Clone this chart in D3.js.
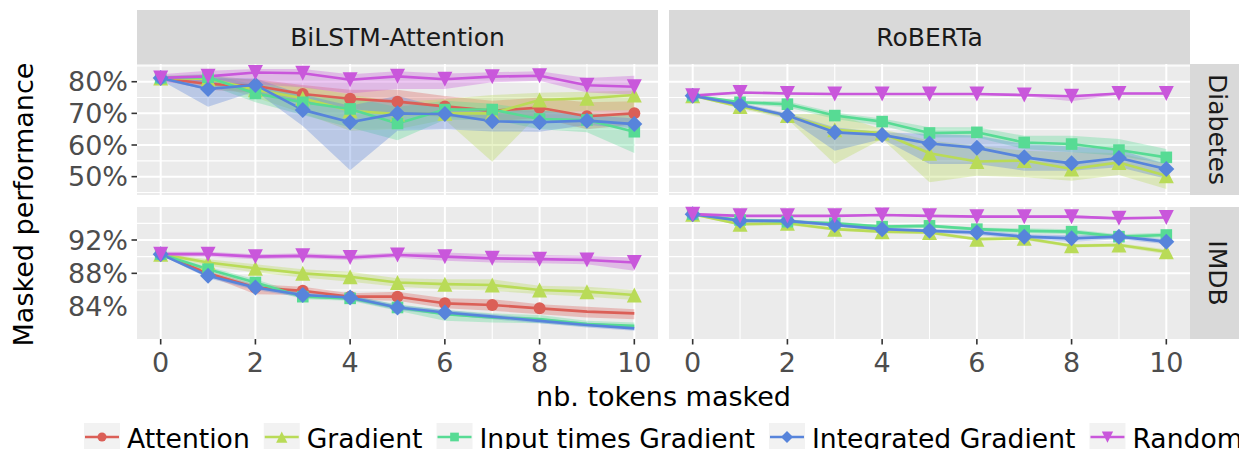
<!DOCTYPE html>
<html><head><meta charset="utf-8">
<script src="https://cdn.jsdelivr.net/npm/d3@7"></script>
<style>
body{margin:0;background:#fff}
svg{display:block}
text{font-family:"DejaVu Sans",sans-serif}
</style>
</head><body>
<svg id="chart" width="1239" height="449"></svg>
<script>
// ---------------- data ----------------
const steps = [0,1,2,3,4,5,6,7,8,9,10];
const models = ["BiLSTM-Attention", "RoBERTa"];
const datasets = ["Diabetes", "IMDB"];
const methods = ["Attention", "Gradient", "Input times Gradient", "Integrated Gradient", "Random"];
const xTicks = [0,2,4,6,8,10];
const xMinor = [1,3,5,7,9];
const diabetesTicks = [50,60,70,80];
const diabetesMinor = [45,55,65,75,85];
const imdbTicks = [84,88,92];
const imdbGridTicks = [88,92];
const imdbMinor = [86,90,94];

// BiLSTM-Attention / Diabetes
const bilstmDiabetesMean = {
  "Attention":            [81.2,79.3,78.7,76.1,74.6,73.7,72.2,70.8,71.8,69.1,70.0],
  "Gradient":             [81.2,80.9,77.5,74.8,70.8,69.8,70.0,70.0,74.2,74.8,75.8],
  "Input times Gradient": [81.2,81.4,76.3,73.5,71.4,66.8,71.2,71.2,68.2,67.9,64.2],
  "Integrated Gradient":  [81.2,77.7,79.0,71.1,67.2,70.0,69.8,67.5,67.2,67.7,66.6],
  "Random":               [81.2,81.7,82.9,82.7,80.6,81.7,80.8,81.6,81.9,78.9,78.4]
};
const bilstmDiabetesLo = {
  "Attention":            [80.5,77.5,76.5,73.0,71.5,69.5,69.0,67.5,68.5,65.0,66.5],
  "Gradient":             [80.5,79.5,75.0,70.0,64.5,65.0,68.0,54.7,70.0,70.8,71.0],
  "Input times Gradient": [80.5,79.0,73.5,69.5,65.5,61.5,68.0,68.0,65.0,64.0,57.5],
  "Integrated Gradient":  [80.5,72.1,77.0,66.0,52.0,64.5,65.0,64.3,64.2,66.3,65.3],
  "Random":               [79.8,79.3,79.3,78.2,76.3,77.7,77.7,79.8,80.3,76.6,75.9]
};
const bilstmDiabetesHi = {
  "Attention":            [81.8,81.0,80.8,79.0,77.5,77.5,75.5,74.0,75.0,73.5,73.8],
  "Gradient":             [81.8,82.2,80.5,78.5,76.0,73.5,74.5,75.8,76.5,76.8,77.2],
  "Input times Gradient": [81.8,82.5,79.0,76.0,75.0,72.0,74.0,73.0,71.0,70.0,69.5],
  "Integrated Gradient":  [81.8,81.4,81.0,76.0,72.4,75.6,71.5,71.0,71.0,69.5,68.4],
  "Random":               [82.4,83.5,84.0,84.0,82.4,83.3,82.6,83.0,83.3,81.2,81.9]
};

// RoBERTa / Diabetes
const robertaDiabetesMean = {
  "Gradient":             [75.6,72.2,69.3,64.8,63.8,57.4,54.8,55.1,52.4,54.5,50.3],
  "Input times Gradient": [75.6,73.5,72.9,69.3,67.4,63.8,64.0,60.8,60.3,58.4,56.1],
  "Integrated Gradient":  [75.6,72.7,69.3,64.0,63.2,60.5,59.1,56.1,54.2,55.9,52.4],
  "Random":               [75.6,76.6,76.3,76.1,76.1,76.1,76.1,75.8,75.4,76.3,76.3]
};
const robertaDiabetesLo = {
  "Gradient":             [75.3,71.5,68.2,54.0,61.9,48.2,50.3,49.8,48.7,50.5,46.1],
  "Input times Gradient": [75.3,73.0,71.9,68.2,66.1,62.4,62.4,58.7,57.7,56.6,54.0],
  "Integrated Gradient":  [75.3,72.0,68.5,58.2,61.9,54.0,54.0,51.9,51.9,53.0,49.3],
  "Random":               [75.3,76.3,76.0,75.8,75.8,75.8,75.8,75.4,73.8,76.0,76.0]
};
const robertaDiabetesHi = {
  "Gradient":             [75.9,72.9,69.8,69.8,65.0,61.4,59.8,58.2,57.7,57.5,54.0],
  "Input times Gradient": [75.9,74.0,73.8,70.3,68.4,65.6,65.6,62.9,62.9,61.9,58.7],
  "Integrated Gradient":  [75.9,73.4,70.0,65.6,64.0,63.5,63.0,60.3,59.5,58.5,54.0],
  "Random":               [75.9,76.9,76.6,76.4,76.4,76.4,76.4,76.1,75.7,76.6,76.6]
};

// BiLSTM-Attention / IMDB
const bilstmImdbMean = {
  "Attention":            [90.3,88.0,86.3,85.9,85.2,85.2,84.4,84.2,83.8,83.4,83.2],
  "Gradient":             [90.3,89.3,88.6,88.0,87.6,86.9,86.7,86.6,86.0,85.8,85.4],
  "Input times Gradient": [90.3,88.5,86.9,85.2,85.0,83.9,83.1,82.7,82.5,81.9,81.7],
  "Integrated Gradient":  [90.3,87.7,86.3,85.4,85.1,83.9,83.3,82.8,82.3,81.8,81.4],
  "Random":               [90.3,90.3,90.0,90.1,89.9,90.2,90.0,89.8,89.7,89.6,89.3]
};
const bilstmImdbLo = {
  "Attention":            [90.2,87.7,85.5,85.4,84.8,84.7,83.8,83.5,83.1,82.7,82.5],
  "Gradient":             [90.2,88.9,88.1,87.5,87.0,86.4,86.1,85.9,85.5,85.2,84.8],
  "Input times Gradient": [90.2,88.2,86.5,84.9,84.7,83.5,82.3,82.1,82.0,81.6,81.4],
  "Integrated Gradient":  [90.2,87.4,86.0,85.1,84.8,83.6,83.0,82.5,82.0,81.5,81.1],
  "Random":               [90.0,90.0,89.7,89.8,89.6,89.9,89.5,89.3,89.2,89.1,88.3]
};
const bilstmImdbHi = {
  "Attention":            [90.4,88.3,86.7,86.4,85.6,85.8,85.0,84.9,84.3,84.0,83.7],
  "Gradient":             [90.4,89.7,89.1,88.5,88.2,87.4,87.3,87.3,86.5,86.4,86.0],
  "Input times Gradient": [90.4,88.8,87.3,85.5,85.3,84.3,83.6,83.2,83.0,82.3,82.1],
  "Integrated Gradient":  [90.4,88.0,86.6,85.7,85.4,84.2,83.6,83.1,82.6,82.1,81.7],
  "Random":               [90.6,90.6,90.3,90.4,90.2,90.5,90.5,90.3,90.2,90.1,89.9]
};
// last step that carries a marker (others: all steps)
const bilstmImdbLastMarked = {"Attention": 8, "Input times Gradient": 5, "Integrated Gradient": 6};

// RoBERTa / IMDB
const robertaImdbMean = {
  "Gradient":             [95.1,93.9,94.0,93.3,93.0,92.9,92.1,92.2,91.3,91.4,90.6],
  "Input times Gradient": [95.1,94.4,94.2,94.0,93.6,93.7,93.3,93.1,93.0,92.4,92.6],
  "Integrated Gradient":  [95.1,94.3,94.3,93.8,93.3,93.1,92.9,92.4,92.2,92.4,91.8],
  "Random":               [95.1,94.9,94.9,94.9,95.0,94.9,94.8,94.8,94.8,94.6,94.7]
};
const robertaImdbLo = {
  "Gradient":             [95.0,93.7,93.8,93.1,92.8,92.7,91.9,92.0,91.1,91.2,90.3],
  "Input times Gradient": [95.0,94.2,94.0,93.8,93.4,93.5,93.1,92.8,92.7,92.1,92.3],
  "Integrated Gradient":  [95.0,94.1,94.1,93.6,93.1,92.9,92.6,92.1,91.8,92.1,91.5],
  "Random":               [95.0,94.8,94.8,94.8,94.9,94.8,94.7,94.7,94.6,94.5,94.6]
};
const robertaImdbHi = {
  "Gradient":             [95.2,94.1,94.2,93.5,93.2,93.1,92.3,92.4,91.5,91.6,90.9],
  "Input times Gradient": [95.2,94.6,94.4,94.2,93.8,93.9,93.5,93.4,93.3,92.7,92.9],
  "Integrated Gradient":  [95.2,94.5,94.5,94.0,93.5,93.3,93.2,92.7,92.6,92.7,92.1],
  "Random":               [95.2,95.0,95.0,95.0,95.1,95.0,94.9,94.9,95.0,94.7,94.8]
};

// ---------------- styles ----------------
const palette = ["#DB5F57", "#B9DB57", "#57DB94", "#5784DB", "#C957DB"];
const shapes = ["circle", "triangleUp", "square", "diamond", "triangleDown"];

const colX = [[137, 658], [669, 1190]];
const rowY = [[64, 195], [207, 339]];
const stripTop = 10;
const stripRightW = 56;

const rowDomains = [[44.2, 85.6], [80.12, 95.96]];
const rowTicks = [diabetesTicks, imdbTicks];
const rowGridTicks = [diabetesTicks, imdbGridTicks];
const rowMinor = [diabetesMinor, imdbMinor];

const panels = [
  {row:0, col:0, mean: bilstmDiabetesMean, lo: bilstmDiabetesLo, hi: bilstmDiabetesHi, last: {}},
  {row:0, col:1, mean: robertaDiabetesMean, lo: robertaDiabetesLo, hi: robertaDiabetesHi, last: {}},
  {row:1, col:0, mean: bilstmImdbMean, lo: bilstmImdbLo, hi: bilstmImdbHi, last: bilstmImdbLastMarked},
  {row:1, col:1, mean: robertaImdbMean, lo: robertaImdbLo, hi: robertaImdbHi, last: {}}
];

function symbolPath(shape) {
  switch (shape) {
    case "circle": { const r = 6; return `M${r},0A${r},${r} 0 1,1 ${-r},0A${r},${r} 0 1,1 ${r},0Z`; }
    case "square": { const s = 5.8; return `M${-s},${-s}H${s}V${s}H${-s}Z`; }
    case "diamond": { const d = 8; return `M0,${-d}L${d},0L0,${d}L${-d},0Z`; }
    case "triangleUp": { const t = 7.5; return `M0,${-t}L${t},${t}L${-t},${t}Z`; }
    case "triangleDown": { const t = 7.5; return `M0,${t}L${t},${-t}L${-t},${-t}Z`; }
  }
}

const svg = d3.select("#chart");
const tickColor = "#4D4D4D";

const xScales = colX.map(r => d3.scaleLinear().domain([-0.5, 10.5]).range(r));
const yScales = rowY.map((r, i) => d3.scaleLinear().domain(rowDomains[i]).range([r[1], r[0]]));

// panels
panels.forEach(p => {
  const x = xScales[p.col], y = yScales[p.row];
  const g = svg.append("g");
  const [x0, x1] = colX[p.col], [y0, y1] = rowY[p.row];
  g.append("rect").attr("x", x0).attr("y", y0).attr("width", x1 - x0).attr("height", y1 - y0).attr("fill", "#EBEBEB");
  rowMinor[p.row].forEach(v => g.append("line").attr("x1", x0).attr("x2", x1).attr("y1", y(v)).attr("y2", y(v))
    .attr("stroke", "#fff").attr("stroke-width", 1.1));
  xMinor.forEach(v => g.append("line").attr("x1", x(v)).attr("x2", x(v)).attr("y1", y0).attr("y2", y1)
    .attr("stroke", "#fff").attr("stroke-width", 1.1));
  rowGridTicks[p.row].forEach(v => g.append("line").attr("x1", x0).attr("x2", x1).attr("y1", y(v)).attr("y2", y(v))
    .attr("stroke", "#fff").attr("stroke-width", 2));
  xTicks.forEach(v => g.append("line").attr("x1", x(v)).attr("x2", x(v)).attr("y1", y0).attr("y2", y1)
    .attr("stroke", "#fff").attr("stroke-width", 2));

  const present = methods.filter(m => p.mean[m]);
  const area = (m) => d3.area().x((d, i) => x(steps[i])).y0((d, i) => y(p.lo[m][i])).y1((d, i) => y(p.hi[m][i]));
  const line = d3.line().x((d, i) => x(steps[i])).y(d => y(d));
  present.forEach(m => {
    const ci = methods.indexOf(m);
    g.append("path").attr("d", area(m)(p.mean[m])).attr("fill", palette[ci]).attr("fill-opacity", 0.33);
  });
  present.forEach(m => {
    const ci = methods.indexOf(m);
    g.append("path").attr("d", line(p.mean[m])).attr("fill", "none").attr("stroke", palette[ci])
      .attr("stroke-width", 2.6).attr("stroke-linejoin", "round");
  });
  present.forEach(m => {
    const ci = methods.indexOf(m);
    const last = p.last[m] !== undefined ? p.last[m] : steps[steps.length - 1];
    p.mean[m].forEach((v, i) => {
      if (steps[i] > last) return;
      g.append("path").attr("d", symbolPath(shapes[ci]))
        .attr("transform", `translate(${x(steps[i])},${y(v)})`)
        .attr("fill", palette[ci]);
    });
  });
});

// top strips
models.forEach((m, c) => {
  const [x0, x1] = colX[c];
  svg.append("rect").attr("x", x0).attr("y", stripTop).attr("width", x1 - x0).attr("height", rowY[0][0] - stripTop).attr("fill", "#D9D9D9");
  svg.append("text").attr("x", (x0 + x1) / 2).attr("y", (stripTop + rowY[0][0]) / 2).attr("dy", "0.36em")
    .attr("text-anchor", "middle").attr("font-size", 25).attr("fill", "#1A1A1A").text(m);
});
// right strips
datasets.forEach((d, r) => {
  const [y0, y1] = rowY[r];
  const xs = colX[1][1];
  svg.append("rect").attr("x", xs).attr("y", y0).attr("width", stripRightW).attr("height", y1 - y0).attr("fill", "#D9D9D9");
  svg.append("text").attr("transform", `translate(${xs + stripRightW / 2},${(y0 + y1) / 2}) rotate(90)`).attr("dy", "0.36em")
    .attr("text-anchor", "middle").attr("font-size", 25).attr("fill", "#1A1A1A").text(d);
});

// y axes (left column)
rowTicks.forEach((ticks, r) => {
  const y = yScales[r];
  ticks.forEach(v => {
    svg.append("text").attr("x", colX[0][0] - 9).attr("y", y(v)).attr("dy", "0.36em").attr("text-anchor", "end")
      .attr("font-size", 27).attr("fill", tickColor).text(v + "%");
  });
  rowGridTicks[r].forEach(v => {
    svg.append("line").attr("x1", colX[0][0] - 5.5).attr("x2", colX[0][0]).attr("y1", y(v)).attr("y2", y(v))
      .attr("stroke", "#333333").attr("stroke-width", 1.6);
  });
});
// x axes (bottom row)
xScales.forEach(x => {
  const yb = rowY[1][1];
  xTicks.forEach(v => {
    svg.append("line").attr("x1", x(v)).attr("x2", x(v)).attr("y1", yb).attr("y2", yb + 5.5)
      .attr("stroke", "#333333").attr("stroke-width", 1.6);
    svg.append("text").attr("x", x(v)).attr("y", yb + 32.5).attr("text-anchor", "middle")
      .attr("font-size", 27).attr("fill", tickColor).text(v);
  });
});

// axis titles
svg.append("text").attr("x", (colX[0][0] + colX[1][1]) / 2).attr("y", 406).attr("text-anchor", "middle")
  .attr("font-size", 27).attr("fill", "#000").text("nb. tokens masked");
svg.append("text").attr("transform", `translate(33,${(rowY[0][0] + rowY[1][1]) / 2 + 3}) rotate(-90)`)
  .attr("text-anchor", "middle").attr("font-size", 27).attr("fill", "#000").text("Masked performance");

// legend
let lx = 84;
const keyW = 36, keyTop = 423, keyMid = 437;
methods.forEach((m, i) => {
  const g = svg.append("g");
  g.append("rect").attr("x", lx).attr("y", keyTop).attr("width", keyW).attr("height", 36).attr("fill", "#F2F2F2");
  g.append("line").attr("x1", lx + 1).attr("x2", lx + keyW - 1).attr("y1", keyMid).attr("y2", keyMid)
    .attr("stroke", palette[i]).attr("stroke-width", 2.6);
  g.append("path").attr("d", symbolPath(shapes[i])).attr("transform", `translate(${lx + keyW / 2},${keyMid}) scale(0.75)`)
    .attr("fill", palette[i]);
  const t = g.append("text").attr("x", lx + keyW + 7).attr("y", 448).attr("font-size", 26.6).attr("fill", "#000").text(m);
  lx += keyW + 7 + t.node().getComputedTextLength() + 14;
});
</script>
</body></html>
